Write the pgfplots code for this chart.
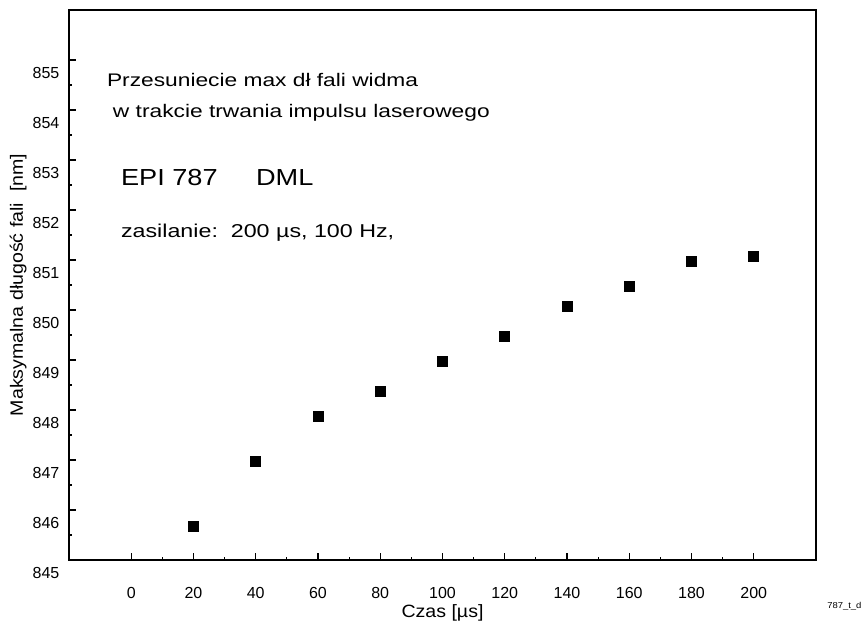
\documentclass[border=0pt]{standalone}
\usepackage{fontspec}
\setmainfont{Liberation Sans}
% the scanned lettering is wider than Arial
\newfontfamily\fa[FakeStretch=1.25]{Liberation Sans}
\newfontfamily\fb[FakeStretch=1.17]{Liberation Sans}
\newfontfamily\fc[FakeStretch=1.1]{Liberation Sans}
\usepackage{pgfplots}
\pgfplotsset{compat=1.18}

\pgfplotstableread{
t lambda
20  845.67
40  846.97
60  847.87
80  848.38
100 848.98
120 849.47
140 850.07
160 850.47
180 850.97
200 851.07
}\maxshift

\begin{document}
\begin{tikzpicture}
% page = 867x621 px at 0.5pt per px, axis box lower-left at (0,0)
\path[use as bounding box] (-34.5pt,-30.5pt) rectangle (399pt,280pt);
\begin{axis}[
  scale only axis,
  width=373.5pt, height=275pt,
  xmin=-20, xmax=220,
  ymin=845, ymax=856,
  xtick={0,20,...,200},
  ytick={845,846,...,855},
  minor x tick num=1,
  minor y tick num=1,
  xtick pos=left, ytick pos=left,
  tick align=inside,
  major tick length=3.5pt,
  minor tick length=1.6pt,
  axis line style={line width=0.8pt},
  every tick/.style={black, line width=0.6pt},
  /pgf/number format/assume math mode=true,
  /pgf/number format/1000 sep={},
  tick label style={font=\fontsize{8}{9}\selectfont},
  xticklabel style={yshift=-10pt},
  yticklabel style={yshift=-6.5pt, xshift=-1.3pt},
  xlabel={Czas [µs]},
  ylabel={Maksymalna długość fali\ \ [nm]},
  label style={font=\fc\fontsize{8.9}{10}\selectfont},
  xlabel style={at={(axis description cs:0.5,-0.097)}, anchor=center},
  ylabel style={at={(axis description cs:-0.068,0.5)}, anchor=center},
  clip=false,
]
  \addplot[only marks, mark=square*, mark size=2.5pt, black] table[x=t, y=lambda] {\maxshift};

  \begin{scope}[every node/.style={anchor=west, inner sep=0pt}]
  \node[font=\fa\fontsize{9.1}{10}\selectfont] at (axis cs:-7.9,854.6) {Przesuniecie max dł fali widma};
  \node[font=\fa\fontsize{9.1}{10}\selectfont] at (axis cs:-6.0,853.94) {w trakcie trwania impulsu laserowego};
  \node[font=\fb\fontsize{11.6}{13}\selectfont] at (axis cs:-3.4,852.64) {EPI 787};
  \node[font=\fb\fontsize{11.6}{13}\selectfont] at (axis cs:40,852.64) {DML};
  \node[font=\fa\fontsize{9.3}{11}\selectfont] at (axis cs:-3.4,851.55) {zasilanie:\ \ 200 µs, 100 Hz,};
  \node[font=\fc\fontsize{4.3}{5}\selectfont] at (axis cs:223.5,844.08) {787\_t\_d};
  \end{scope}
\end{axis}
\end{tikzpicture}
\end{document}
